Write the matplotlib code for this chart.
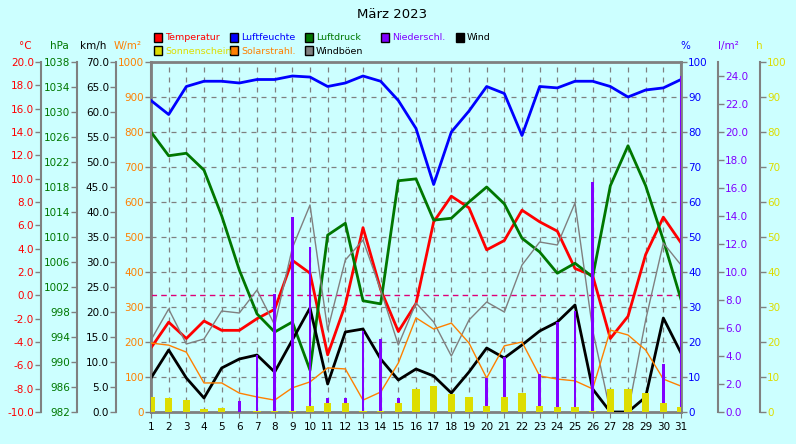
import matplotlib
matplotlib.use("Agg")
import matplotlib.pyplot as plt
from matplotlib.patches import Rectangle
import numpy as np

days = list(range(1, 32))
temperatur = [-4.5,-2.3,-3.7,-2.2,-3.0,-3.0,-2.0,-1.2,3.0,1.9,-5.1,-0.8,5.8,0.5,-3.1,-0.7,6.3,8.5,7.5,3.9,4.7,7.3,6.3,5.5,2.3,1.7,-3.7,-1.8,3.5,6.7,4.5]
luftfeuchte = [89,85,93,94.5,94.5,94,95,95,96,95.7,93,94,96,94.5,89,81,65,80,86,93,91,79,93,92.6,94.5,94.5,93,90,92,92.6,95]
luftdruck = [1026.8,1023,1023.4,1020.7,1013.4,1004.7,997.7,994.8,996.4,988.7,1010.3,1012.2,999.8,999.3,1019,1019.3,1012.7,1013,1015.6,1018,1015.3,1009.8,1007.6,1004.2,1005.8,1003.6,1018.2,1024.6,1018.2,1009.5,1000]
wind = [6.8,12.4,6.8,2.8,8.8,10.6,11.4,8.0,14.4,20.8,5.6,16.0,16.6,10.6,6.4,8.6,7.2,3.8,8.0,12.8,10.8,13.4,16.2,18.0,21.4,4.6,0,0,3.0,18.8,11.8]
windboeen = [14.4,20.6,13.6,14.6,20.2,19.8,24.4,17.4,32.8,41.4,16.4,30.4,34.4,24.4,13.4,21.8,18.0,11.2,18.4,22.0,20.0,29.4,34.0,33.4,41.8,16.4,0,0,18.4,33.8,29.4]
solar = [197,191,171,83,83,54,43,34,69,86,126,123,34,57,140,269,237,254,197,97,189,200,103,94,89,66,234,220,177,94,74]
niederschlag = [0,0,0,0.2,0,0.8,4.1,8.4,13.9,11.8,1.0,1.0,5.8,5.2,1.0,0,0,0,0.5,2.4,3.9,0,2.7,6.4,7.2,16.4,0.8,0,0.6,3.4,24.0]
sonnenschein = [4.3,4.0,3.4,0.9,1.1,0,0.3,0.3,0.4,1.7,2.6,2.6,0.3,0.4,2.6,6.6,7.4,5.1,4.3,1.7,4.3,5.4,1.7,1.4,1.4,0.3,6.6,6.6,5.4,2.6,1.4]

BG = "#ccffff"
RED, BLUE, GREEN, PURPLE, YEL, ORA, GRAY = "#ff0000", "#0000ff", "#007700", "#8000ff", "#dddd00", "#ff8000", "#808080"
plt.rcParams['font.family'] = ['DejaVu Sans']
FS = 7.5
plt.rcParams['font.size'] = FS

fig = plt.figure(figsize=(7.96, 4.44), dpi=100, facecolor=BG)
W, H = 796, 444
L, R, T, B = 151, 681, 62, 412
PT = 0.72  # points per pixel
rect = [L/W, (H-B)/H, (R-L)/W, (B-T)/H]
ax = fig.add_axes(rect)
ax.set_facecolor(BG)

def mk(side, offset_px, lo, hi, ticks, color, fmt):
    a = ax.twinx()
    a.patch.set_visible(False)
    for s in a.spines.values():
        s.set_visible(False)
    a.spines[side].set_visible(True)
    a.spines[side].set_color(GRAY)
    a.spines[side].set_linewidth(1.5)
    a.spines[side].set_position(('outward', offset_px * PT))
    a.yaxis.set_ticks_position(side)
    a.set_ylim(lo, hi)
    a.set_yticks(ticks)
    a.set_yticklabels([fmt.format(t) for t in ticks])
    a.tick_params(axis='y', colors=GRAY, labelcolor=color, length=4, width=1, pad=1, labelsize=FS)
    a.set_xlim(1, 31)
    return a

ax.set_xlim(1, 31)
ax.set_ylim(0, 10)
ax.set_yticks(range(11))
ax.set_yticklabels([])
ax.tick_params(axis='y', length=0)
ax.set_xticks(days)
ax.set_xticklabels([str(d) for d in days])
ax.tick_params(axis='x', length=4, colors=GRAY, labelcolor='black', labelsize=FS)
ax.grid(True, color=GRAY, linestyle=(0, (4, 4)), linewidth=0.9)
for s in ax.spines.values():
    s.set_color(GRAY); s.set_linewidth(2)

at = mk('left', 110, -10, 20, np.arange(-10, 20.1, 2), RED, "{:.1f}")
ap = mk('left', 74, 982, 1038, np.arange(982, 1039, 4), GREEN, "{:.0f}")
aw = mk('left', 35, 0, 70, np.arange(0, 70.1, 5), 'black', "{:.1f}")
asol = mk('left', 0, 0, 1000, np.arange(0, 1001, 100), ORA, "{:.0f}")
ah = mk('right', 0, 0, 100, np.arange(0, 101, 10), BLUE, "{:.0f}")
ar = mk('right', 37, 0, 25, np.arange(0, 24.1, 2), PURPLE, "{:.1f}")
asun = mk('right', 79, 0, 100, np.arange(0, 101, 10), YEL, "{:.0f}")

asun.bar(days, sonnenschein, width=0.4, color=YEL, zorder=2)
ar.bar(days, niederschlag, width=0.15, color=PURPLE, zorder=3)
asol.plot(days, solar, color=ORA, lw=1, zorder=4)
aw.plot(days, windboeen, color=GRAY, lw=1, zorder=4)
aw.plot(days, wind, color='black', lw=2, zorder=5)
ap.plot(days, luftdruck, color=GREEN, lw=2, zorder=5)
ah.plot(days, luftfeuchte, color=BLUE, lw=2, zorder=5)
at.axhline(0, color="#dd0077", lw=1, linestyle=(0, (4, 3)))
at.plot(days, temperatur, color=RED, lw=2, zorder=6)
for a in [asun, ar, asol, aw, ap, ah, at, ax]:
    a.set_xlim(1, 31)

fig.text(392/W, 1-14/H, "März 2023", ha='center', va='center', fontsize=9.5)

units = [(25, "°C", RED), (59, "hPa", GREEN), (93, "km/h", 'black'), (128, "W/m²", ORA),
         (685, "%", BLUE), (728, "l/m²", PURPLE), (759, "h", YEL)]
for x, t, c in units:
    fig.text(x/W, 1-46/H, t, ha='center', va='center', color=c, fontsize=FS)

legend = [(157, 38, "Temperatur", RED, RED), (233, 38, "Luftfeuchte", BLUE, BLUE),
          (308, 38, "Luftdruck", GREEN, GREEN), (384, 38, "Niederschl.", PURPLE, PURPLE),
          (459, 38, "Wind", 'black', 'black'), (157, 51, "Sonnenschein", YEL, YEL),
          (233, 51, "Solarstrahl.", ORA, ORA), (308, 51, "Windböen", GRAY, 'black')]
for x, y, t, c, tc in legend:
    fig.patches.append(Rectangle(((x-3)/W, 1-(y+4)/H), 8/W, 9/H, transform=fig.transFigure,
                                 facecolor=c, edgecolor='black', lw=1))
    fig.text((x+8)/W, 1-y/H, t, ha='left', va='center', color=tc, fontsize=6.8)

fig.savefig("out.png", dpi=100, facecolor=BG)
